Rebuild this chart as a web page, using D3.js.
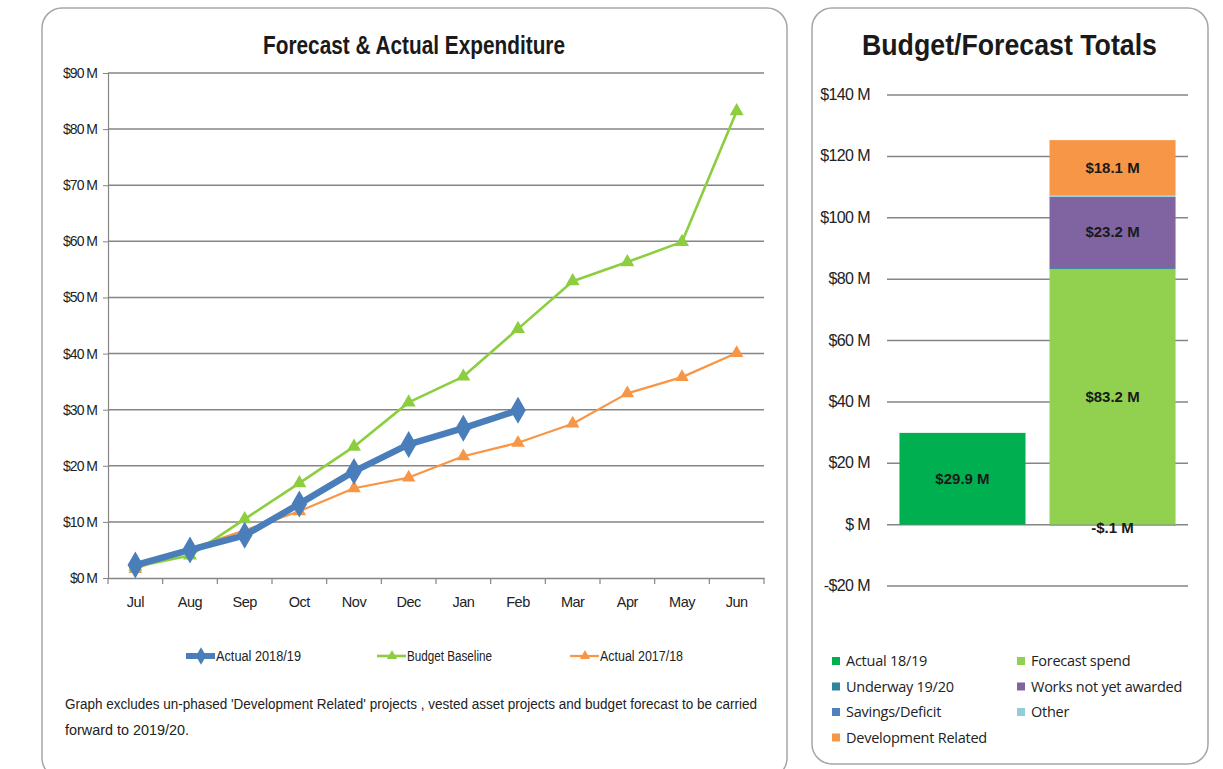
<!DOCTYPE html>
<html>
<head>
<meta charset="utf-8">
<script src="https://cdn.jsdelivr.net/npm/d3@7"></script>
<style>
  html, body { margin: 0; padding: 0; background: #fff; }
  svg { display: block; }
  .narrow { font-family: "Liberation Sans", Arial, sans-serif; }
  .legendR { font-family: "Open Sans", "Noto Sans", sans-serif; }
</style>
</head>
<body>
<svg id="chart" width="1223" height="769"></svg>
<script>
// ---- Forecast & Actual Expenditure (cumulative, $M) ----
const months = ["Jul","Aug","Sep","Oct","Nov","Dec","Jan","Feb","Mar","Apr","May","Jun"];
const actual1819 = [2.3, 5.0, 7.6, 13.2, 19.0, 23.8, 26.7, 29.9];
const budgetBaseline = [2.0, 4.0, 10.5, 16.9, 23.4, 31.3, 35.9, 44.4, 52.9, 56.3, 59.9, 83.2];
const actual1718 = [1.6, 5.2, 8.5, 11.9, 16.0, 17.9, 21.7, 24.1, 27.5, 32.9, 35.8, 40.1];
const lineTicks = [0, 10, 20, 30, 40, 50, 60, 70, 80, 90];

// ---- Budget/Forecast Totals ($M) ----
const totalCategories = ["Actual", "Forecast"];
const totalSeries = ["Actual 18/19", "Underway 19/20", "Savings/Deficit", "Development Related",
                     "Forecast spend", "Works not yet awarded", "Other"];
const seriesColors = ["#00b050", "#31849b", "#4f81bd", "#f79646", "#92d050", "#8064a2", "#93cddd"];
// values per category, in stacking order
const actualStack = [{ key: "Actual 18/19", value: 29.9 }];
const forecastStack = [
  { key: "Savings/Deficit", value: -0.1 },
  { key: "Forecast spend", value: 83.2 },
  { key: "Underway 19/20", value: 0.4 },
  { key: "Works not yet awarded", value: 23.2 },
  { key: "Other", value: 0.4 },
  { key: "Development Related", value: 18.1 }
];
const labelledKeys = ["Actual 18/19", "Forecast spend", "Works not yet awarded", "Development Related", "Savings/Deficit"];
const totalTicks = [-20, 0, 20, 40, 60, 80, 100, 120, 140];

const svg = d3.select("#chart");
const gridColor = "#858585";
// squeeze a text run into a given width
const fit = (sel, w) => sel.attr("textLength", w).attr("lengthAdjust", "spacingAndGlyphs");

// Panel frames
svg.append("rect").attr("x", 42).attr("y", 8).attr("width", 745).attr("height", 770)
  .attr("rx", 20).attr("fill", "#fff").attr("stroke", "#a6a6a6").attr("stroke-width", 1.5);
svg.append("rect").attr("x", 812).attr("y", 8).attr("width", 396).attr("height", 756)
  .attr("rx", 20).attr("fill", "#fff").attr("stroke", "#a6a6a6").attr("stroke-width", 1.5);

// ===================== Left chart =====================
const L = { left: 108, right: 764, top: 73, bottom: 578 };
const x = d3.scaleBand().domain(months).range([L.left, L.right]);
const y = d3.scaleLinear().domain([0, 90]).range([L.bottom, L.top]);

svg.append("text").attr("class", "narrow").attr("x", 263).attr("y", 54)
  .attr("font-size", 26).attr("font-weight", "bold")
  .attr("fill", "#1a1a1a").text("Forecast & Actual Expenditure").call(fit, 302);

// gridlines
svg.append("g").selectAll("line").data(lineTicks.filter(d => d > 0)).join("line")
  .attr("x1", L.left).attr("x2", L.right)
  .attr("y1", d => y(d)).attr("y2", d => y(d))
  .attr("stroke", gridColor).attr("stroke-width", 1.5);

// y axis
const yAxis = svg.append("g").attr("transform", `translate(${L.left},0)`)
  .call(d3.axisLeft(y).tickValues(lineTicks).tickSize(5).tickPadding(6)
    .tickFormat(d => `$${d} M`));
yAxis.select(".domain").attr("stroke", gridColor).attr("stroke-width", 1.2);
yAxis.selectAll(".tick line").attr("stroke", gridColor);
yAxis.selectAll("text").attr("class", "narrow").attr("font-size", 14).attr("fill", "#222")
  .attr("letter-spacing", -1);

// x axis
const xAxis = svg.append("g").attr("transform", `translate(0,${L.bottom})`)
  .call(d3.axisBottom(x).tickSize(0).tickPadding(19));
xAxis.select(".domain").attr("stroke", gridColor).attr("stroke-width", 1.5);
xAxis.selectAll("text").attr("class", "narrow").attr("font-size", 14.5).attr("fill", "#222")
  .attr("letter-spacing", -0.5);
// tick marks between categories
svg.append("g").selectAll("line").data(months.concat(["end"])).join("line")
  .attr("x1", (d, i) => L.left + i * x.step()).attr("x2", (d, i) => L.left + i * x.step())
  .attr("y1", L.bottom).attr("y2", L.bottom + 6)
  .attr("stroke", gridColor).attr("stroke-width", 1.2);

const cx = (d, i) => x(months[i]) + x.bandwidth() / 2;
const line = d3.line().x(cx).y(d => y(d));
const tri = d3.symbol().type(d3.symbolTriangle);
const dia = d3.symbol().type(d3.symbolDiamond);

function drawSeries(values, color, width, symbol, size) {
  const g = svg.append("g");
  g.append("path").datum(values).attr("d", line).attr("fill", "none")
    .attr("stroke", color).attr("stroke-width", width).attr("stroke-linejoin", "round");
  g.selectAll("path.m").data(values).join("path").attr("class", "m")
    .attr("transform", (d, i) => `translate(${cx(d, i)},${y(d)})`)
    .attr("d", symbol.size(size)()).attr("fill", color);
}
drawSeries(actual1718, "#f79646", 2.2, tri, 80);
drawSeries(budgetBaseline, "#8cce3f", 2.6, tri, 85);
drawSeries(actual1819, "#4a7ebb", 6.5, dia, 210);

// legend
const legendItems = [
  { label: "Actual 2018/19", color: "#4a7ebb", w: 6, sym: dia, size: 90, x: 186, tw: 85 },
  { label: "Budget Baseline", color: "#8cce3f", w: 2.6, sym: tri, size: 45, x: 377, tw: 85 },
  { label: "Actual 2017/18", color: "#f79646", w: 2.2, sym: tri, size: 45, x: 570, tw: 83 }
];
const lg = svg.append("g").selectAll("g").data(legendItems).join("g")
  .attr("transform", d => `translate(${d.x},656)`);
lg.append("line").attr("x1", 0).attr("x2", 29).attr("y1", 0).attr("y2", 0)
  .attr("stroke", d => d.color).attr("stroke-width", d => d.w);
lg.append("path").attr("transform", "translate(15,0)")
  .attr("d", d => d.sym.size(d.size)()).attr("fill", d => d.color);
lg.append("text").attr("class", "narrow").attr("x", 30).attr("y", 5)
  .attr("font-size", 14).attr("fill", "#222").text(d => d.label)
  .attr("textLength", d => d.tw).attr("lengthAdjust", "spacingAndGlyphs");

// footnote
const note = svg.append("text").attr("class", "narrow").attr("font-size", 15.2).attr("fill", "#222");
note.append("tspan").attr("x", 65).attr("y", 709)
  .text("Graph excludes un-phased 'Development Related' projects , vested asset projects and budget forecast to be carried")
  .call(fit, 692);
note.append("tspan").attr("x", 65).attr("y", 735).text("forward to 2019/20.").call(fit, 124);

// ===================== Right chart =====================
const R = { left: 887, right: 1188, top: 95, bottom: 586 };
const xb = d3.scaleBand().domain(totalCategories).range([R.left, R.right])
  .paddingInner(0.16).paddingOuter(0.083);
const yb = d3.scaleLinear().domain([-20, 140]).range([R.bottom, R.top]);

svg.append("text").attr("class", "narrow").attr("x", 862).attr("y", 55)
  .attr("font-size", 30).attr("font-weight", "bold")
  .attr("fill", "#1a1a1a").text("Budget/Forecast Totals").call(fit, 295);

svg.append("g").selectAll("line").data(totalTicks).join("line")
  .attr("x1", R.left).attr("x2", R.right)
  .attr("y1", d => yb(d)).attr("y2", d => yb(d))
  .attr("stroke", gridColor).attr("stroke-width", 1.5);

svg.append("g").selectAll("text").data(totalTicks).join("text")
  .attr("class", "narrow").attr("x", 870).attr("y", d => yb(d) + 5)
  .attr("text-anchor", "end").attr("font-size", 16).attr("fill", "#222")
  .attr("letter-spacing", -0.6)
  .text(d => d === 0 ? "$ M" : (d < 0 ? `-$${-d} M` : `$${d} M`));

// build stacked segments (positives stack upward, negatives downward)
function stackSegments(stack, cat) {
  let pos = 0, neg = 0;
  return stack.map(s => {
    let y0, y1;
    if (s.value >= 0) { y0 = pos; y1 = pos + s.value; pos = y1; }
    else { y0 = neg + s.value; y1 = neg; neg = y0; }
    return { ...s, cat, y0, y1 };
  });
}
const segments = stackSegments(actualStack, "Actual").concat(stackSegments(forecastStack, "Forecast"));
const colorOf = d3.scaleOrdinal().domain(totalSeries).range(seriesColors);

svg.append("g").selectAll("rect").data(segments).join("rect")
  .attr("x", d => xb(d.cat)).attr("width", xb.bandwidth())
  .attr("y", d => yb(d.y1)).attr("height", d => Math.max(0.8, yb(d.y0) - yb(d.y1)))
  .attr("fill", d => colorOf(d.key));

const fmt = v => (v < 0 ? "-$" : "$") + (Math.abs(v) < 1 ? d3.format(".1f")(Math.abs(v)).replace(/^0/, "") : d3.format(".1f")(Math.abs(v))) + " M";
svg.append("g").selectAll("text").data(segments.filter(d => labelledKeys.includes(d.key))).join("text")
  .attr("class", "narrow")
  .attr("x", d => xb(d.cat) + xb.bandwidth() / 2)
  .attr("y", d => yb((d.y0 + d.y1) / 2) + 5 + (d.value < 0 ? 3 : 0))
  .attr("text-anchor", "middle").attr("font-size", 15).attr("font-weight", "bold")
  .attr("fill", "#1a1a1a").text(d => fmt(d.value));

// legend (two columns)
const legendOrder = [
  { key: "Actual 18/19", col: 0, row: 0 }, { key: "Forecast spend", col: 1, row: 0 },
  { key: "Underway 19/20", col: 0, row: 1 }, { key: "Works not yet awarded", col: 1, row: 1 },
  { key: "Savings/Deficit", col: 0, row: 2 }, { key: "Other", col: 1, row: 2 },
  { key: "Development Related", col: 0, row: 3 }
];
const rl = svg.append("g").selectAll("g").data(legendOrder).join("g")
  .attr("transform", d => `translate(${832 + d.col * 185},${661 + d.row * 25.5})`);
rl.append("rect").attr("x", 0).attr("y", -4).attr("width", 8).attr("height", 8)
  .attr("fill", d => colorOf(d.key));
rl.append("text").attr("class", "legendR").attr("x", 14).attr("y", 5)
  .attr("font-size", 14.5).attr("fill", "#222").attr("letter-spacing", -0.25).text(d => d.key);
</script>
</body>
</html>
